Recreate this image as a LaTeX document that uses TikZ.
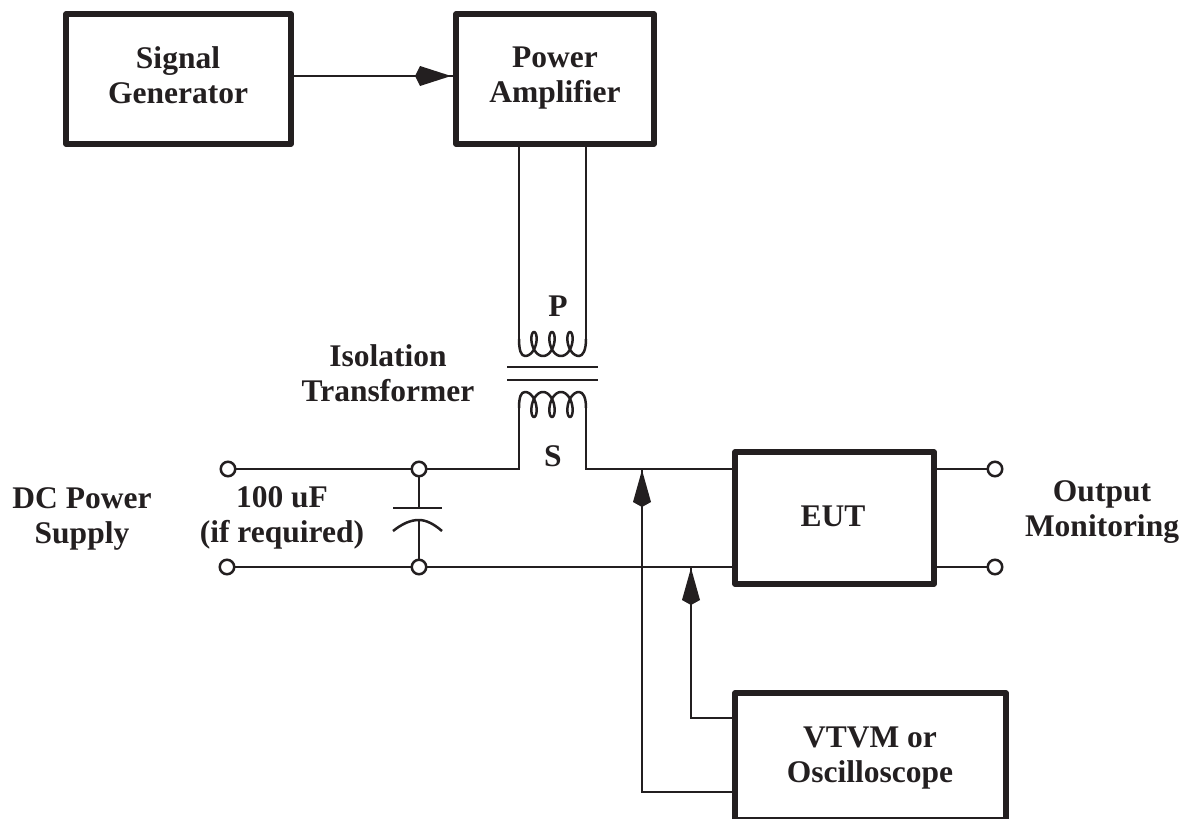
\documentclass[tikz,border=0pt]{standalone}
\usepackage{fontspec}
\setmainfont{Liberation Serif}
\definecolor{ink}{HTML}{231F20}
\tikzset{
  blockbox/.style={draw=ink,line width=5.5pt,inner sep=0pt,outer sep=0pt,anchor=north west,line join=round},
  lbl/.style={font=\bfseries\fontsize{31.5}{35}\selectfont,align=center,text=ink,inner sep=0pt},
  wire/.style={draw=ink,line width=2.5pt},
  term/.style={circle,draw=ink,fill=white,line width=2.5pt,minimum size=14.5pt,inner sep=0pt,outer sep=0pt},
  kite/.style={fill=ink,draw=none}
}
\begin{document}
\begin{tikzpicture}[x=1pt,y=-1pt]
\useasboundingbox (0,0) rectangle (1187,819);
\clip (0,0) rectangle (1187,819);
% blocks
\node[blockbox,minimum width=225pt,minimum height=130pt] (sg) at (66,14) {};
\node[blockbox,minimum width=198pt,minimum height=130pt] (pa) at (456,14) {};
\node[blockbox,minimum width=199pt,minimum height=132pt] (eut) at (735,452) {};
\node[blockbox,minimum width=271pt,minimum height=127pt] (vt) at (735,693) {};
% terminals
\node[term] (tl1) at (228,469) {};
\node[term] (tl2) at (227,567) {};
\node[term] (tc1) at (419,469) {};
\node[term] (tc2) at (419,567) {};
\node[term] (tr1) at (995,469) {};
\node[term] (tr2) at (995,567) {};
% labels
\node[lbl] (tsg) at (178,75.5) {Signal\\Generator};
\node[lbl] (tpa) at (555,78) {Power\\Amplifier};
\node[lbl] (teut) at (833,516) {EUT};
\node[lbl] (tvt) at (870,758) {VTVM or\\Oscilloscope};
\node[lbl] (tp) at (558,306) {P};
\node[lbl] (ts) at (553,456) {S};
\node[lbl] (tiso) at (388,373.5) {Isolation\\Transformer};
\node[lbl] (tdc) at (82,519) {DC Power\\Supply};
\node[lbl] (tcap) at (282,518) {100 uF\\(if required)};
\node[lbl] (tout) at (1102,512) {Output\\Monitoring};
% signal arrow
\coordinate (pain) at (pa.west |- 0,76);
\draw[wire] (sg.east |- pain) -- (pain);
\fill[kite] (415,76) -- (420,66) -- (451,76) -- (420,86) -- cycle;
% primary
\coordinate (pl) at (519,339);
\coordinate (pr) at (586,339);
\draw[wire] (pa.south -| pl) -- (pl);
\draw[wire] (pa.south -| pr) -- (pr);
\draw[wire,line join=round] (pl) .. controls (519,350) and (521,356) .. (525,356)
  -- plot[domain=3.1416:21.9911,samples=150] ({525+2.865*(\x-3.1416)-6.5*sin(\x r)},{344-12*cos(\x r)})
  -- (579,356) .. controls (583,356) and (586,350) .. (pr);
% plates
\coordinate (p1a) at (507,367); \coordinate (p1b) at (598,367);
\coordinate (p2a) at (507,380); \coordinate (p2b) at (598,380);
\draw[wire] (p1a) -- (p1b);
\draw[wire] (p2a) -- (p2b);
% secondary
\coordinate (sl) at (519,408);
\coordinate (sr) at (586,408);
\draw[wire,line join=round] (sl) .. controls (519,397) and (521,392) .. (525,392)
  -- plot[domain=3.1416:21.9911,samples=150] ({525+2.865*(\x-3.1416)-6.5*sin(\x r)},{404.5+12.5*cos(\x r)})
  -- (579,392) .. controls (583,392) and (586,397) .. (sr);
\coordinate (slb) at (519,469);
\coordinate (srb) at (586,469);
\draw[wire] (tl1) -- (tc1);
\draw[wire] (tc1) -- (slb) -- (sl);
\draw[wire] (sr) -- (srb) -- (eut.west |- srb);
\draw[wire] (tl2) -- (tc2);
\draw[wire] (tc2) -- (eut.west |- tc2);
\draw[wire] (eut.east |- tr1) -- (tr1);
\draw[wire] (eut.east |- tr2) -- (tr2);
% capacitor
\coordinate (cp1) at (419,508);
\coordinate (cp2) at (419,520);
\coordinate (cpl) at (393,508); \coordinate (cpr) at (442,508);
\coordinate (cal) at (393,531); \coordinate (car) at (442,531);
\draw[wire] (tc1) -- (cp1);
\draw[wire] (cpl) -- (cpr);
\draw[wire] (cal) .. controls (402,524) and (410,520) .. (cp2) .. controls (426,520) and (434,524) .. (car);
\draw[wire] (cp2) -- (tc2);
% monitoring connectors
\coordinate (m1) at (642,792); \coordinate (m1t) at (642,470);
\coordinate (m2) at (691,718); \coordinate (m2t) at (691,568);
\draw[wire] (vt.west |- m1) -- (m1) -- (m1t);
\draw[wire] (vt.west |- m2) -- (m2) -- (m2t);
\fill[kite] (642,470) -- (651,502) -- (642,507) -- (633,502) -- cycle;
\fill[kite] (691,568) -- (700,600) -- (691,605) -- (682,600) -- cycle;
\end{tikzpicture}
\end{document}
